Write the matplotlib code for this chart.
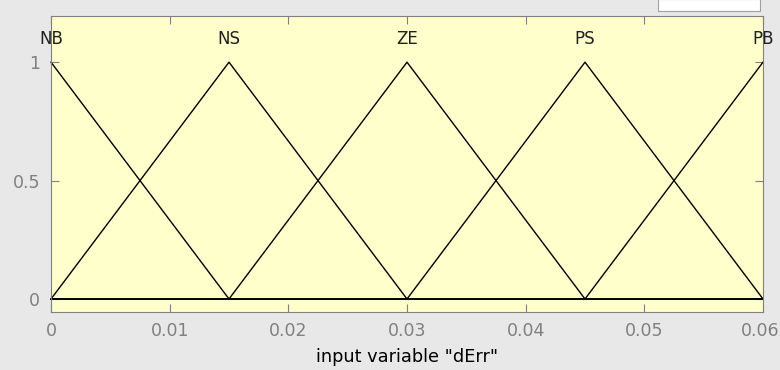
import matplotlib
matplotlib.use("Agg")
import matplotlib.pyplot as plt
import matplotlib.transforms as mtransforms
import numpy as np

# Membership function data
mf_names = ["NB", "NS", "ZE", "PS", "PB"]
mf_params = [
    [-0.015, 0.0, 0.015],
    [0.0, 0.015, 0.03],
    [0.015, 0.03, 0.045],
    [0.03, 0.045, 0.06],
    [0.045, 0.06, 0.075],
]
x_range = [0.0, 0.06]
x_ticks = [0, 0.01, 0.02, 0.03, 0.04, 0.05, 0.06]
x_tick_labels = ["0", "0.01", "0.02", "0.03", "0.04", "0.05", "0.06"]
y_ticks = [0, 0.5, 1]
y_tick_labels = ["0", "0.5", "1"]
x_label = 'input variable "dErr"'

plt.rcParams['font.family'] = ['DejaVu Sans']

W, H = 780, 370
fig = plt.figure(figsize=(W / 100, H / 100), dpi=100, facecolor="#e8e8e8")
left, right, top, bottom = 51, 763, 16, 312
ax = fig.add_axes([left / W, 1 - bottom / H, (right - left) / W, (bottom - top) / H])
ax.set_facecolor("#ffffcc")

# White UI box at top-right
fig.patches.append(plt.Rectangle((658 / W, 1 - 11 / H), (760 - 658) / W, 12 / H,
                                 transform=fig.transFigure, facecolor="white",
                                 edgecolor="#a0a0a0", linewidth=0.8, zorder=0))

xs = np.linspace(x_range[0], x_range[1], 1201)
for name, (a, b, c) in zip(mf_names, mf_params):
    y = np.maximum(np.minimum((xs - a) / (b - a), (c - xs) / (c - b)), 0)
    ax.plot(xs, y, color="black", linewidth=1.0, clip_on=False)
    ax.text(b, 1.097, name, ha="center", va="center", fontsize=12, color="#202020")

ax.set_xlim(x_range)
ax.set_ylim(-0.055, 1.195)
ax.set_xticks(x_ticks)
ax.set_xticklabels(x_tick_labels[:-1] + [""])
ax.set_yticks(y_ticks)
ax.set_yticklabels(y_tick_labels)
ax.tick_params(direction="in", length=6, width=0.8, colors="#808080",
               labelcolor="#808080", labelsize=12.5, top=True, right=True)
ax.tick_params(axis="x", pad=7)
ax.tick_params(axis="y", pad=8)
for s in ax.spines.values():
    s.set_color("#808080")
    s.set_linewidth(0.8)
ax.set_xlabel(x_label, fontsize=12.8, color="black", labelpad=6)

# last x tick label, nudged so it stays inside the image
trans = mtransforms.blended_transform_factory(ax.transData, ax.transAxes) + \
    mtransforms.ScaledTranslation(-3 / 100, -10 / 100, fig.dpi_scale_trans)
ax.text(x_ticks[-1], 0, x_tick_labels[-1], transform=trans, ha="center", va="top",
        fontsize=12.5, color="#808080", clip_on=False)

fig.savefig("out.png", dpi=100, facecolor=fig.get_facecolor())
